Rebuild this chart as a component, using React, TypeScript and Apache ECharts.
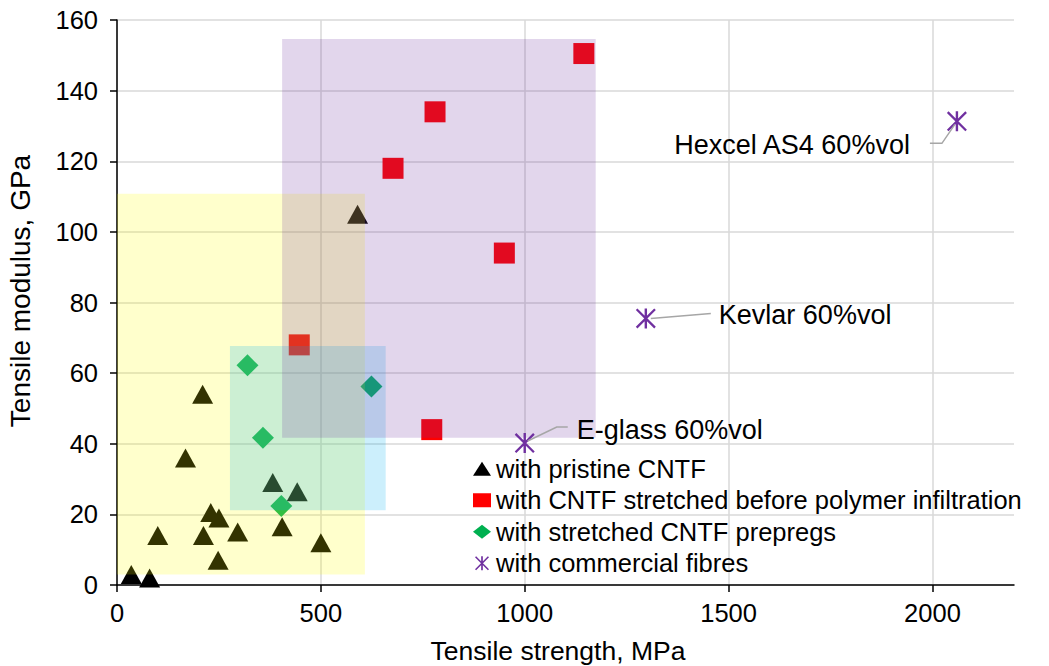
import React, { useEffect, useRef } from "react";
import * as echarts from "echarts";

// ---- data ----
const seriesNames = [
  "with pristine CNTF",
  "with CNTF stretched before polymer infiltration",
  "with stretched CNTF prepregs",
  "with commercial fibres",
];

const pristineCNTF: number[][] = [
  [35, 3], [80, 2], [100, 14], [168, 36], [210, 54], [230, 20.5], [250, 19],
  [212, 14], [296, 15], [248, 7], [405, 16.5], [500, 12], [382, 29], [442, 26.4],
  [590, 105],
];
const stretchedCNTF: number[][] = [
  [1145, 150.5], [780, 134], [677, 118], [950, 94], [447, 68], [772, 44],
];
const stretchedPrepregs: number[][] = [
  [320, 62.2], [358, 41.7], [403, 22.4], [624, 56.2],
];
const commercialFibres: number[][] = [
  [1000, 40.2], [1297, 75.5], [2060, 131.3],
];
const commercialNames = ["E-glass 60%vol", "Kevlar 60%vol", "Hexcel AS4 60%vol"];

// shaded regions: [xMin, yMin, xMax, yMax]
const regionRanges: number[][] = [
  [0, 3, 608, 110.8],
  [277, 21.2, 659, 67.7],
  [405, 41.7, 1174, 154.6],
];

const xTicks = [0, 500, 1000, 1500, 2000];
const xMax = 2200;
const yMax = 160;
const yInterval = 20;

// ---- styles ----
const FONT = "'Liberation Sans', Arial, sans-serif";
const regionColors = [
  "rgba(255,255,0,0.2)",
  "rgba(0,176,240,0.2)",
  "rgba(112,48,160,0.2)",
];
const seriesColors = ["#000000", "#ff0000", "#00b050", "#7030a0"];
const ASTERISK =
  "path://M8.8,0H11.2V20H8.8Z M0,1.6L1.6,0L20,18.4L18.4,20Z M18.4,0L20,1.6L1.6,20L0,18.4Z";

// label layout offsets (pixels, relative to the point)
const labelLayouts = [
  { text: [52, -13], align: "left", line: [[3, -2], [32, -16], [43, -16]] },
  { text: [73, -3], align: "left", line: [[5, 0], [65, -5]] },
  { text: [-47, 23.5], align: "right", line: [[-2, 3], [-15, 22], [-27, 22]] },
];

export default function App() {
  const ref = useRef<HTMLDivElement>(null);

  useEffect(() => {
    if (!ref.current) return;
    const chart = echarts.init(ref.current, undefined, { renderer: "svg" });

    const option: any = {
      animation: false,
      backgroundColor: "#ffffff",
      grid: { left: 117, right: 35, top: 20, bottom: 81, containLabel: false },
      xAxis: {
        type: "value",
        min: 0,
        max: xMax,
        interval: 500,
        axisLine: { show: true, lineStyle: { color: "#000", width: 1.5 } },
        axisTick: {
          show: true,
          inside: false,
          length: 7,
          customValues: xTicks,
          lineStyle: { color: "#000", width: 1.5 },
        },
        axisLabel: {
          customValues: xTicks,
          formatter: (v: number) => String(v),
          margin: 15,
          fontSize: 25.5,
          color: "#000",
          fontFamily: FONT,
        },
        splitLine: { show: true, lineStyle: { color: "#d9d9d9", width: 1.5 } },
      },
      yAxis: {
        type: "value",
        min: 0,
        max: yMax,
        interval: yInterval,
        axisLine: { show: true, lineStyle: { color: "#000", width: 1.5 } },
        axisTick: {
          show: true,
          inside: false,
          length: 7,
          lineStyle: { color: "#000", width: 1.5 },
        },
        axisLabel: {
          formatter: (v: number) => String(v),
          margin: 19,
          fontSize: 25.5,
          color: "#000",
          fontFamily: FONT,
        },
        splitLine: { show: true, lineStyle: { color: "#d9d9d9", width: 1.5 } },
      },
      legend: {
        orient: "vertical",
        left: 473,
        top: 455,
        padding: 0,
        itemWidth: 18,
        itemHeight: 14,
        itemGap: 4,
        data: seriesNames,
        textStyle: { fontSize: 25.5, lineHeight: 27.5, color: "#000", fontFamily: FONT },
      },
      series: [
        {
          name: seriesNames[0],
          type: "scatter",
          z: 2,
          symbol: "triangle",
          symbolSize: [21, 19],
          itemStyle: { color: seriesColors[0], opacity: 1 },
          data: pristineCNTF,
        },
        {
          name: seriesNames[1],
          type: "scatter",
          z: 2,
          symbol: "rect",
          symbolSize: 21,
          itemStyle: { color: seriesColors[1], opacity: 1 },
          data: stretchedCNTF,
        },
        {
          name: seriesNames[2],
          type: "scatter",
          z: 2,
          symbol: "diamond",
          symbolSize: 22,
          itemStyle: { color: seriesColors[2], opacity: 1 },
          data: stretchedPrepregs,
        },
        {
          name: seriesNames[3],
          type: "scatter",
          z: 2,
          symbol: ASTERISK,
          symbolSize: 20,
          itemStyle: { color: seriesColors[3], opacity: 1 },
          data: commercialFibres,
        },
        {
          name: "regions",
          type: "custom",
          z: 10,
          clip: false,
          silent: true,
          encode: { x: [0, 2], y: [1, 3] },
          data: regionRanges,
          renderItem: (params: any, api: any) => {
            const p1 = api.coord([api.value(0), api.value(3)]);
            const p2 = api.coord([api.value(2), api.value(1)]);
            return {
              type: "rect",
              shape: { x: p1[0], y: p1[1], width: p2[0] - p1[0], height: p2[1] - p1[1] },
              style: { fill: regionColors[params.dataIndex % regionColors.length] },
            };
          },
        },
      ],
    };

    chart.setOption(option);

    // annotations positioned via the chart's own coordinate conversion
    const graphics: any[] = [];
    commercialFibres.forEach((d, i) => {
      const p = chart.convertToPixel({ gridIndex: 0 }, d) as number[];
      const L = labelLayouts[i];
      graphics.push({
        type: "polyline",
        z: 20,
        shape: { points: L.line.map((o) => [p[0] + o[0], p[1] + o[1]]) },
        style: { stroke: "#a6a6a6", lineWidth: 1.5, fill: "none" },
      });
      graphics.push({
        type: "text",
        z: 20,
        x: p[0] + L.text[0],
        y: p[1] + L.text[1],
        style: {
          text: commercialNames[i],
          fontSize: 27,
          fontFamily: FONT,
          fill: "#000",
          align: L.align,
          verticalAlign: "middle",
        },
      });
    });
    graphics.push({
      type: "text",
      z: 20,
      x: 558,
      y: 651,
      style: {
        text: "Tensile strength, MPa",
        fontSize: 26.5,
        fontFamily: FONT,
        fill: "#000",
        align: "center",
        verticalAlign: "middle",
      },
    });
    graphics.push({
      type: "text",
      z: 20,
      x: 20,
      y: 291,
      rotation: Math.PI / 2,
      style: {
        text: "Tensile modulus, GPa",
        fontSize: 28,
        fontFamily: FONT,
        fill: "#000",
        align: "center",
        verticalAlign: "middle",
      },
    });
    chart.setOption({ graphic: graphics });

    return () => {
      chart.dispose();
    };
  }, []);

  return (
    <div
      ref={ref}
      style={{ position: "absolute", left: 0, top: 0, width: 1049, height: 666 }}
    />
  );
}
